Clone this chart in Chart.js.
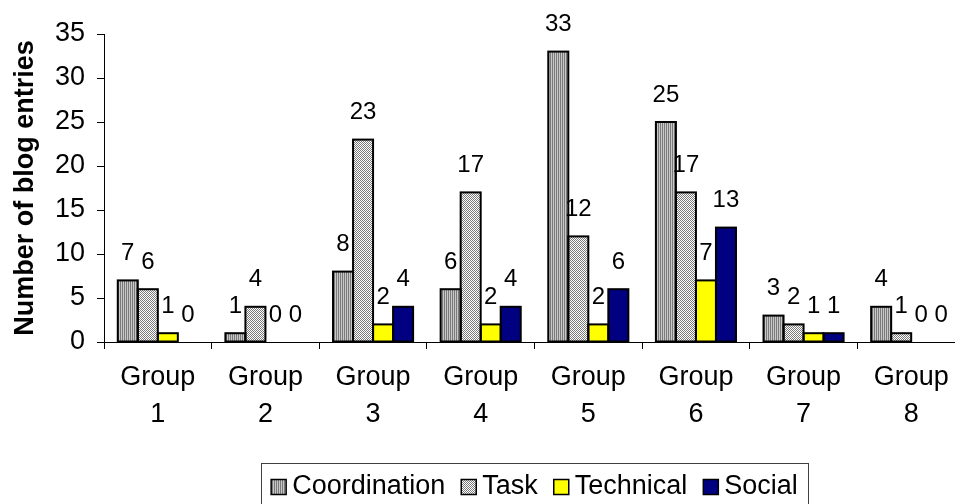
<!DOCTYPE html>
<html><head><meta charset="utf-8">
<script src="https://cdn.jsdelivr.net/npm/chart.js@4/dist/chart.umd.min.js"></script>
<style>html,body{margin:0;padding:0;overflow:hidden;background:#fff;width:955px;height:504px}canvas{display:block}</style>
</head><body>
<canvas id="c" width="970" height="525" style="width:970px;height:525px"></canvas>
<script>
const categories = [['Group','1'],['Group','2'],['Group','3'],['Group','4'],['Group','5'],['Group','6'],['Group','7'],['Group','8']];
const seriesNames = ['Coordination','Task','Technical','Social'];
const coordination = [7,1,8,6,33,25,3,4];
const task = [6,4,23,17,12,17,2,1];
const technical = [1,0,2,2,2,7,1,0];
const social = [0,0,4,4,6,13,1,0];
const yMin = 0, yMax = 35, yStep = 5;

const FONT = '"Liberation Sans", Arial, sans-serif';

function makePattern(w, h, draw) {
  const c = document.createElement('canvas');
  c.width = w; c.height = h;
  const g = c.getContext('2d');
  draw(g);
  return g.createPattern(c, 'repeat');
}
const ctx0 = document.getElementById('c').getContext('2d');
const stripePattern = makePattern(2, 1, g => {
  g.fillStyle = '#7a7a7a'; g.fillRect(0,0,1,1);
  g.fillStyle = '#c8c8c8'; g.fillRect(1,0,1,1);
});
const checkPattern = makePattern(2, 2, g => {
  g.fillStyle = '#ffffff'; g.fillRect(0,0,2,2);
  g.fillStyle = '#7a7a7a'; g.fillRect(0,0,1,1); g.fillRect(1,1,1,1);
});
const fills = [stripePattern, checkPattern, '#ffff00', '#000080'];
const seriesData = [coordination, task, technical, social];

const outlinePlugin = {
  id: 'outlines',
  afterDatasetsDraw(chart) {
    const ctx = chart.ctx;
    ctx.save();
    ctx.strokeStyle = '#000';
    ctx.lineWidth = 2;
    chart.data.datasets.forEach((ds, i) => {
      const meta = chart.getDatasetMeta(i);
      meta.data.forEach((bar, j) => {
        if (ds.data[j] === 0) return;
        const p = bar.getProps(['x','y','base','width'], true);
        ctx.strokeRect(p.x - p.width/2, p.y, p.width, p.base - p.y);
      });
    });
    ctx.restore();
  }
};

const labelPlugin = {
  id: 'valueLabels',
  afterDatasetsDraw(chart) {
    const ctx = chart.ctx;
    ctx.save();
    ctx.fillStyle = '#000';
    ctx.font = '24px ' + FONT;
    ctx.textAlign = 'center';
    ctx.textBaseline = 'middle';
    chart.data.datasets.forEach((ds, i) => {
      const meta = chart.getDatasetMeta(i);
      meta.data.forEach((bar, j) => {
        const p = bar.getProps(['x','y'], true);
        ctx.fillText(String(ds.data[j]), p.x, p.y - 27);
      });
    });
    ctx.restore();
  }
};

const legendPlugin = {
  id: 'boxLegend',
  afterDraw(chart) {
    const ctx = chart.ctx;
    const area = chart.chartArea;
    ctx.save();
    ctx.font = '27px ' + FONT;
    const sq = 15, gapSq = 6, gapItem = 16, pad = 10;
    const items = chart.data.datasets.map((ds, i) => ({label: ds.label, fill: fills[i], w: ctx.measureText(ds.label).width}));
    let total = 0;
    items.forEach((it, k) => { total += sq + gapSq + it.w + (k < items.length - 1 ? gapItem : 0); });
    const cx = (area.left + area.right) / 2;
    let x = cx - total / 2;
    const cy = 487;
    ctx.strokeStyle = '#404040';
    ctx.lineWidth = 1;
    ctx.strokeRect(Math.round(x - pad) + 0.5, 463.5, Math.round(total + 2*pad), 60);
    ctx.textBaseline = 'middle';
    ctx.textAlign = 'left';
    items.forEach(it => {
      ctx.fillStyle = it.fill;
      ctx.fillRect(x, cy - sq/2, sq, sq);
      ctx.strokeStyle = '#000';
      ctx.lineWidth = 1.5;
      ctx.strokeRect(x, cy - sq/2, sq, sq);
      ctx.fillStyle = '#000';
      ctx.fillText(it.label, x + sq + gapSq, cy);
      x += sq + gapSq + it.w + gapItem;
    });
    ctx.restore();
  }
};

new Chart(document.getElementById('c'), {
  type: 'bar',
  data: {
    labels: categories,
    datasets: seriesNames.map((name, i) => ({
      label: name,
      data: seriesData[i],
      backgroundColor: fills[i],
      borderWidth: 0,
      categoryPercentage: 0.744,
      barPercentage: 1.0
    }))
  },
  options: {
    responsive: false,
    animation: false,
    devicePixelRatio: 1,
    layout: { padding: { left: 0, top: 34, right: 5, bottom: 0 } },
    plugins: { legend: { display: false }, tooltip: { enabled: false } },
    scales: {
      x: {
        grid: { display: true, drawOnChartArea: false, drawTicks: true, tickLength: 7, color: '#000', offset: true },
        border: { display: true, color: '#000', width: 1 },
        ticks: { color: '#000', font: { family: FONT, size: 27, lineHeight: 1.37 }, padding: 10, maxRotation: 0, autoSkip: false },
        afterFit(s) { s.height = 525 - 342; }
      },
      y: {
        min: yMin, max: yMax,
        grid: { display: true, drawOnChartArea: false, drawTicks: true, tickLength: 7, color: '#000' },
        border: { display: true, color: '#000', width: 1 },
        ticks: { stepSize: yStep, color: '#000', font: { family: FONT, size: 27 }, padding: 12 },
        title: { display: true, text: 'Number of blog entries', color: '#000', font: { family: FONT, size: 27, weight: 'bold' }, padding: { top: 9, bottom: 0 } },
        afterFit(s) { s.width = 104; }
      }
    }
  },
  plugins: [outlinePlugin, labelPlugin, legendPlugin]
});
</script>
</body></html>
